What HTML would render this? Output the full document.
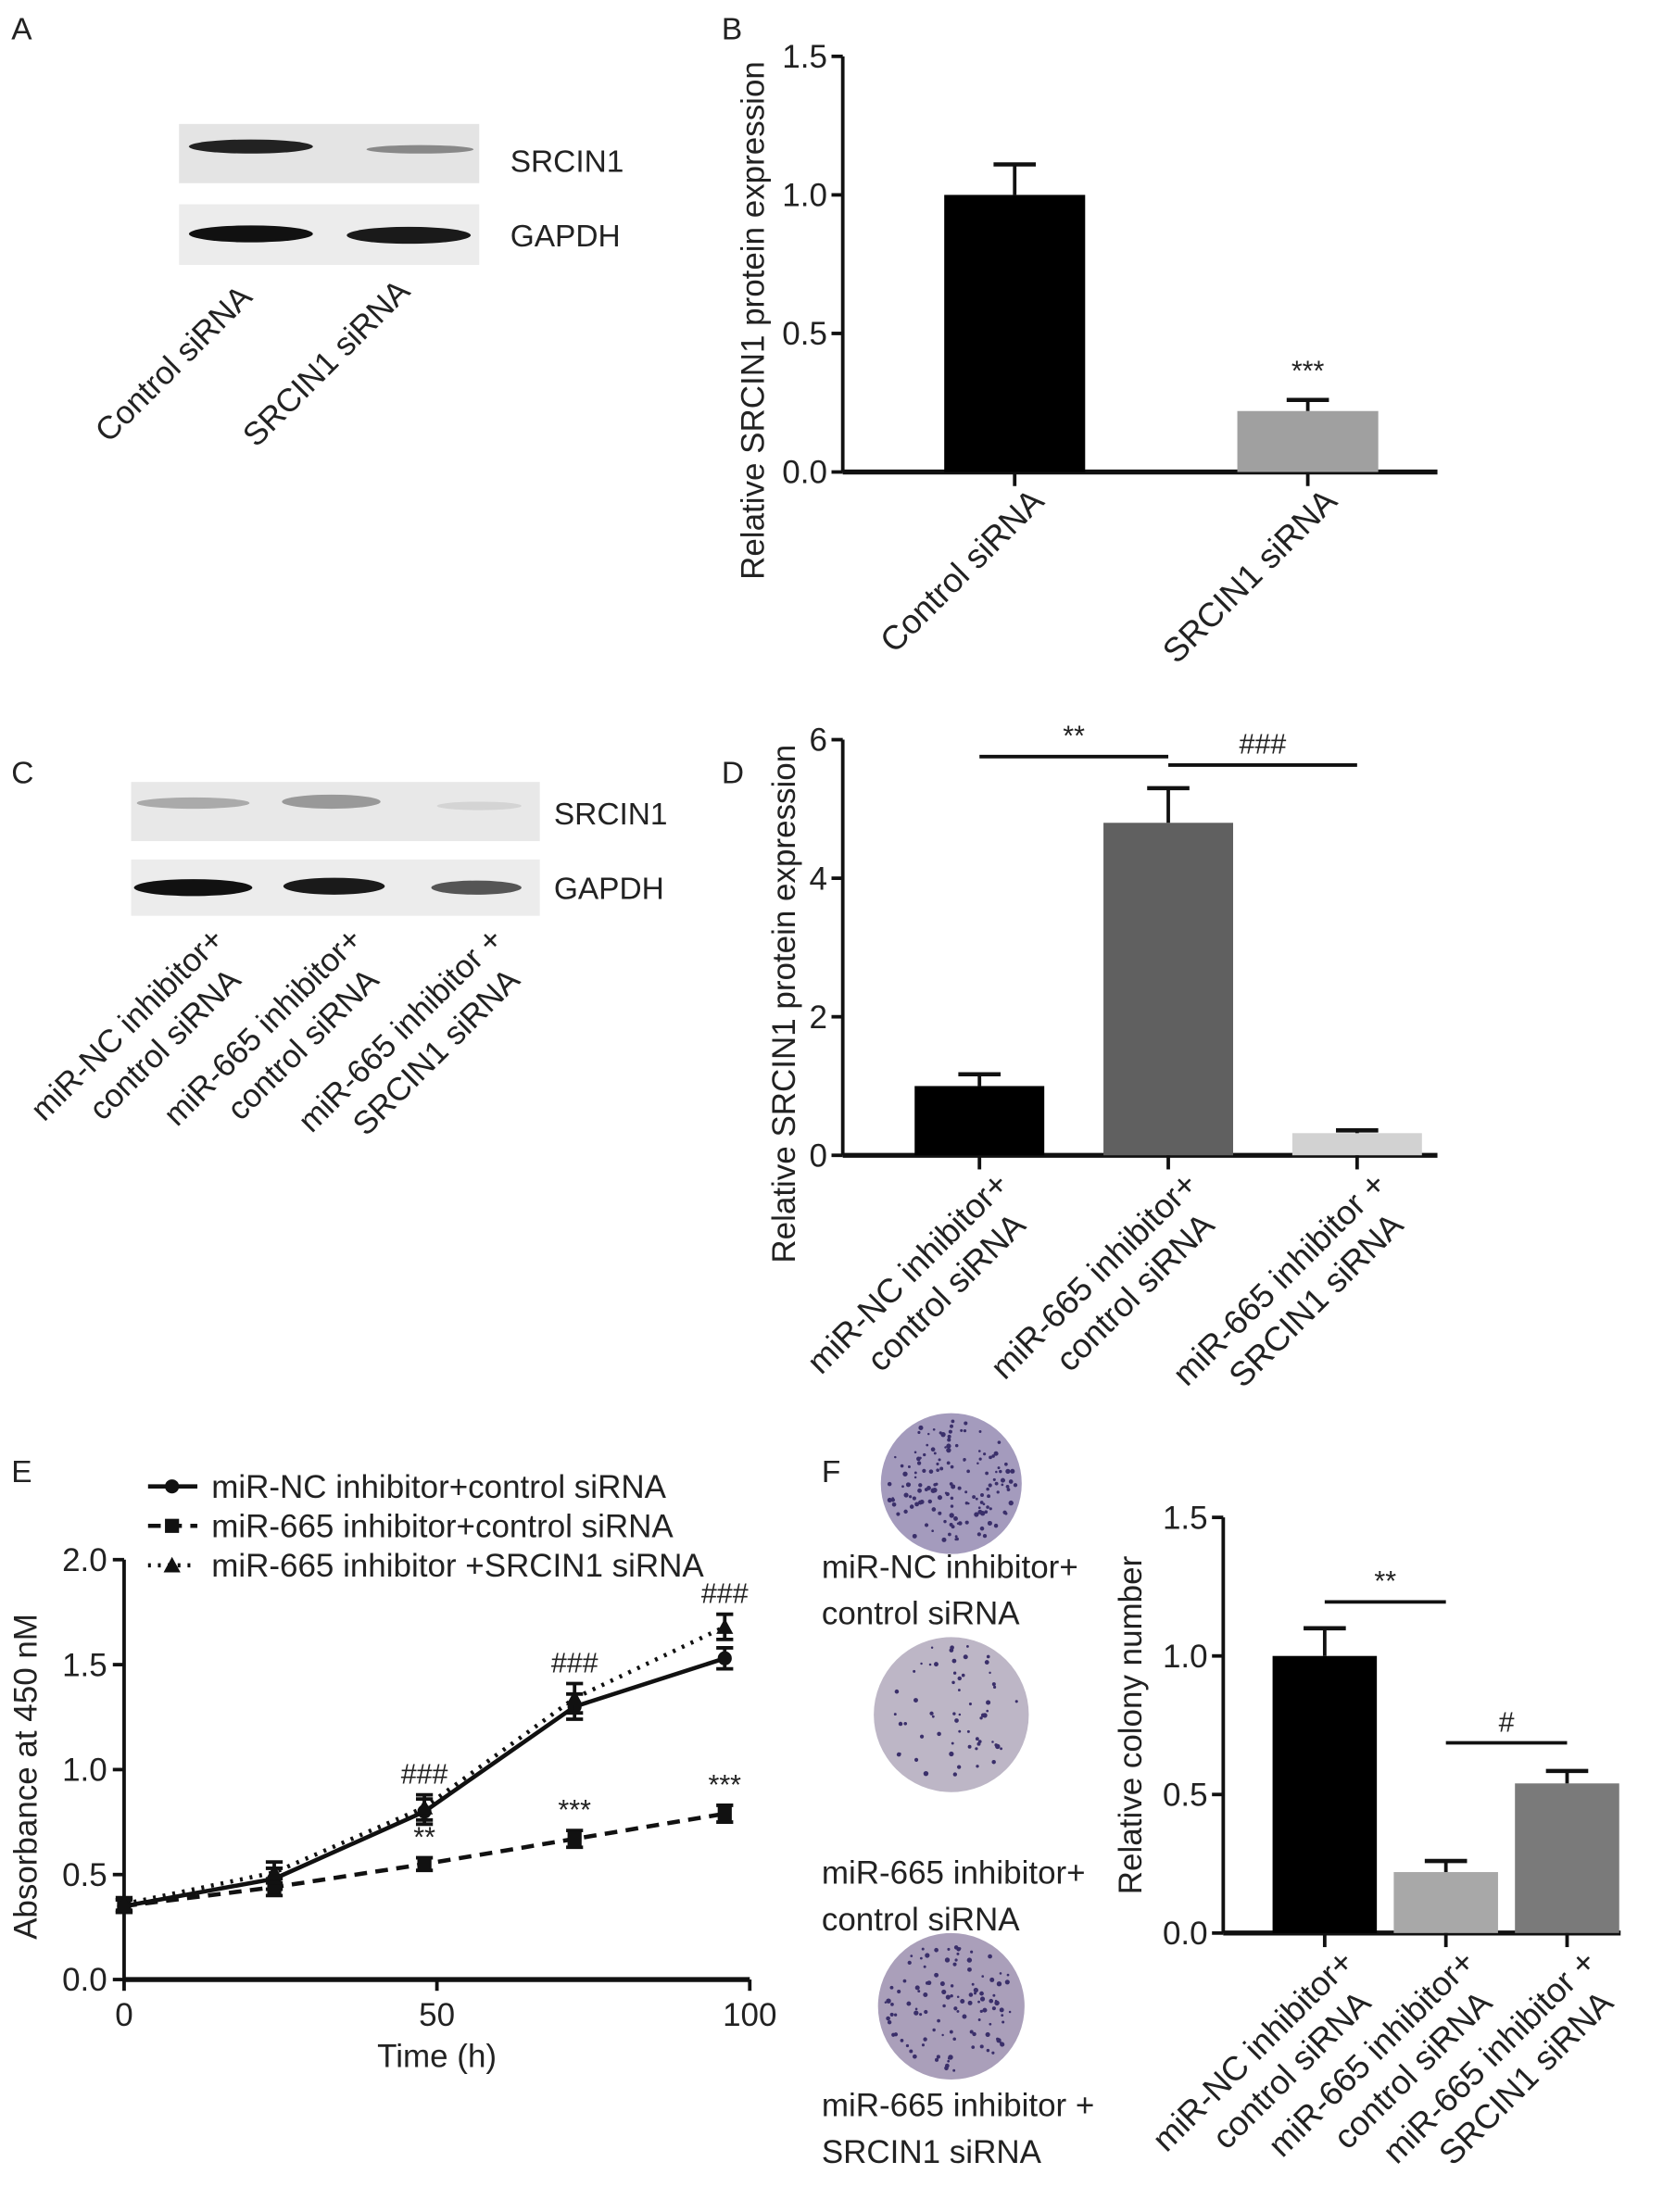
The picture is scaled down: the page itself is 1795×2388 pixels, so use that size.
<!DOCTYPE html>
<html><head><meta charset="utf-8"><style>
html,body{margin:0;padding:0;background:#fff}
svg{display:block}
text{font-family:"Liberation Sans",sans-serif;fill:#222}
</style></head><body>
<svg id="fig" width="1795" height="2388" viewBox="0 0 1180 1570" xmlns="http://www.w3.org/2000/svg">
<g font-size="22">
<text x="8" y="28">A</text>
<text x="512" y="28">B</text>
<text x="8" y="556">C</text>
<text x="512" y="556">D</text>
<text x="8" y="1052">E</text>
<text x="583" y="1052">F</text>
</g>
<!-- Panel A blots -->
<g>
<rect x="127" y="88" width="213" height="42" fill="#e4e4e4"/>
<ellipse cx="178" cy="104" rx="44" ry="5" fill="#222"/>
<ellipse cx="298" cy="106" rx="38" ry="3" fill="#888"/>
<rect x="127" y="145" width="213" height="43" fill="#ececec"/>
<ellipse cx="178" cy="166" rx="44" ry="6" fill="#111"/>
<ellipse cx="290" cy="167" rx="44" ry="6" fill="#1a1a1a"/>
<text x="362" y="122" font-size="22">SRCIN1</text>
<text x="362" y="175" font-size="22">GAPDH</text>
<text transform="translate(180,212) rotate(-45)" text-anchor="end" font-size="23">Control siRNA</text>
<text transform="translate(292,208) rotate(-45)" text-anchor="end" font-size="23">SRCIN1 siRNA</text>
</g>
<!-- Panel C blots -->
<g>
<rect x="93" y="555" width="290" height="42" fill="#e8e8e8"/>
<ellipse cx="137" cy="570" rx="40" ry="4" fill="#aaa"/>
<ellipse cx="235" cy="569" rx="35" ry="5" fill="#999"/>
<ellipse cx="340" cy="572" rx="30" ry="3" fill="#d4d4d4"/>
<rect x="93" y="610" width="290" height="40" fill="#ececec"/>
<ellipse cx="137" cy="630" rx="42" ry="6" fill="#111"/>
<ellipse cx="237" cy="629" rx="36" ry="6" fill="#1a1a1a"/>
<ellipse cx="338" cy="630" rx="32" ry="5" fill="#555"/>
<text x="393" y="585" font-size="22">SRCIN1</text>
<text x="393" y="638" font-size="22">GAPDH</text>
<g transform="translate(160,668) rotate(-45)" font-size="23" text-anchor="end"><text x="0" y="0">miR-NC inhibitor+</text><text x="-12" y="29">control siRNA</text></g>
<g transform="translate(258,668) rotate(-45)" font-size="23" text-anchor="end"><text x="0" y="0">miR-665 inhibitor+</text><text x="-12" y="29">control siRNA</text></g>
<g transform="translate(358,668) rotate(-45)" font-size="23" text-anchor="end"><text x="0" y="0">miR-665 inhibitor +</text><text x="-12" y="29">SRCIN1 siRNA</text></g>
</g>
<!-- Colony dishes -->
<g>
<circle cx="675" cy="1053" r="50" fill="#a49bbd"/>
<circle cx="675" cy="1217" r="55" fill="#bdb6c6"/>
<circle cx="675" cy="1424" r="52" fill="#aa9fba"/>
<g id="dots"></g>
<text x="583" y="1120" font-size="23">miR-NC inhibitor+</text>
<text x="583" y="1153" font-size="23">control siRNA</text>
<text x="583" y="1337" font-size="23">miR-665 inhibitor+</text>
<text x="583" y="1370" font-size="23">control siRNA</text>
<text x="583" y="1502" font-size="23">miR-665 inhibitor +</text>
<text x="583" y="1535" font-size="23">SRCIN1 siRNA</text>
</g>
<g id="plots"></g>
</svg>
<script>
// Panel B data
const bCats = ["Control siRNA", "SRCIN1 siRNA"];
const bVals = [1.0, 0.22];
const bErr = [0.11, 0.04];
const bTicks = ["0.0", "0.5", "1.0", "1.5"];
// Panel D data
const dCats1 = ["miR-NC inhibitor+", "miR-665 inhibitor+", "miR-665 inhibitor +"];
const dCats2 = ["control siRNA", "control siRNA", "SRCIN1 siRNA"];
const dVals = [1.0, 4.8, 0.32];
const dErr = [0.17, 0.5, 0.04];
const dTicks = ["0", "2", "4", "6"];
// Panel E data
const eTimes = [0, 24, 48, 72, 96];
const eNC = [0.35, 0.48, 0.80, 1.30, 1.53];
const e665 = [0.35, 0.44, 0.55, 0.67, 0.79];
const eSR = [0.36, 0.51, 0.82, 1.34, 1.68];
const eErrNC = [0.03, 0.05, 0.06, 0.06, 0.05];
const eErr665 = [0.03, 0.04, 0.03, 0.04, 0.04];
const eErrSR = [0.03, 0.05, 0.06, 0.07, 0.06];
const eYTicks = ["0.0", "0.5", "1.0", "1.5", "2.0"];
const eXTicks = ["0", "50", "100"];
const eSeriesNames = ["miR-NC inhibitor+control siRNA", "miR-665 inhibitor+control siRNA", "miR-665 inhibitor +SRCIN1 siRNA"];
// Panel F data
const fCats1 = ["miR-NC inhibitor+", "miR-665 inhibitor+", "miR-665 inhibitor +"];
const fCats2 = ["control siRNA", "control siRNA", "SRCIN1 siRNA"];
const fVals = [1.0, 0.22, 0.54];
const fErr = [0.1, 0.04, 0.045];
const fTicks = ["0.0", "0.5", "1.0", "1.5"];

const NS = "http://www.w3.org/2000/svg";
const root = document.getElementById("plots");
function mk(tag, attrs, parent, txt) {
  const e = document.createElementNS(NS, tag);
  for (const k in attrs) e.setAttribute(k, attrs[k]);
  if (txt !== undefined) e.textContent = txt;
  (parent || root).appendChild(e);
  return e;
}
function line(x1, y1, x2, y2, w, p, dash) {
  const a = {x1, y1, x2, y2, stroke: "#111", "stroke-width": w || 2.5};
  if (dash) a["stroke-dasharray"] = dash;
  return mk("line", a, p);
}
function errBar(x, yTop, yBase, p) {
  const l = line(x, yBase, x, yTop, 2.5, p);
  
  
  const c = line(x - 15, yTop, x + 15, yTop, 3, p);
  
  
}
function barPanel(cfg) {
  const g = mk("g", {});
  
  
  const y = v => cfg.y0 - (v / cfg.max) * (cfg.y0 - cfg.yTop);
  line(cfg.ax, cfg.yTop, cfg.ax, cfg.y0, 2.5, g);
  line(cfg.ax, cfg.y0, cfg.xEnd, cfg.y0, 3.5, g);
  cfg.ticks.forEach((t, i) => {
    const v = cfg.max * i / (cfg.ticks.length - 1);
    line(cfg.ax - 8, y(v), cfg.ax, y(v), 2.5, g);
    const tx = mk("text", {x: cfg.ax - 11, y: y(v) + 8, "text-anchor": "end", "font-size": 23}, g, t);
    
    
  });
  const yt = mk("text", {transform: `translate(${cfg.titleX},${(cfg.yTop + cfg.y0) / 2 + cfg.titleDy}) rotate(-90)`, "text-anchor": "middle", "font-size": 23}, g, cfg.title);
  
  
  cfg.vals.forEach((v, i) => {
    const cx = cfg.x0 + i * cfg.step;
    const b = mk("rect", {x: cx - cfg.bw / 2, y: y(v), width: cfg.bw, height: cfg.y0 - y(v), fill: cfg.colors[i]}, g);
    
    
    errBar(cx, y(v + cfg.err[i]), y(v), g);
    line(cx, cfg.y0, cx, cfg.y0 + 10, 2.5, g);
    const lg = mk("g", {transform: `translate(${cx + cfg.lblDx},${cfg.y0 + cfg.lblDy}) rotate(-45)`, "text-anchor": "end", "font-size": 24}, g);
    
    
    mk("text", {x: 0, y: 0}, lg, cfg.cats1[i]);
    if (cfg.cats2) mk("text", {x: -12, y: 29}, lg, cfg.cats2[i]);
  });
  (cfg.sig || []).forEach(s => {
    const a = cfg.x0 + s[0] * cfg.step, b2 = cfg.x0 + s[1] * cfg.step;
    const sl = line(a, s[2], b2, s[2], 2.5, g);
    
    
    const st = mk("text", {x: (a + b2) / 2, y: s[2] - 8, "text-anchor": "middle", "font-size": 20}, g, s[3]);
    
    
  });
  (cfg.stars || []).forEach(s => {
    const cx = cfg.x0 + s[0] * cfg.step;
    const st = mk("text", {x: cx, y: y(cfg.vals[s[0]] + cfg.err[s[0]]) - 14, "text-anchor": "middle", "font-size": 20}, g, s[1]);
    
    
  });
}
barPanel({name: "chart-b", ax: 598, yTop: 40, y0: 335, xEnd: 1020, max: 1.5, ticks: bTicks, vals: bVals, err: bErr,
  x0: 720, step: 208, bw: 100, colors: ["#000", "#a0a0a0"], cats1: bCats, lblDx: 22, lblDy: 22,
  title: "Relative SRCIN1 protein expression", titleX: 542, titleDy: 40, stars: [[1, "***"]]});
barPanel({name: "chart-d", ax: 598, yTop: 525, y0: 820, xEnd: 1020, max: 6, ticks: dTicks, vals: dVals, err: dErr,
  x0: 695, step: 134, bw: 92, colors: ["#000", "#606060", "#d2d2d2"], cats1: dCats1, cats2: dCats2, lblDx: 22, lblDy: 22,
  title: "Relative SRCIN1 protein expression", titleX: 564, titleDy: 40,
  sig: [[0, 1, 537, "**"], [1, 2, 543, "###"]]});
barPanel({name: "chart-f", ax: 868, yTop: 1077, y0: 1372, xEnd: 1150, max: 1.5, ticks: fTicks, vals: fVals, err: fErr,
  x0: 940, step: 86, bw: 74, colors: ["#000", "#a8a8a8", "#7a7a7a"], cats1: fCats1, cats2: fCats2, lblDx: 22, lblDy: 22,
  title: "Relative colony number", titleX: 810, titleDy: 0,
  sig: [[0, 1, 1137, "**"], [1, 2, 1237, "#"]]});

// Panel E line chart
(function () {
  const g = mk("g", {});
  
  
  const ax = 88, y0 = 1405, yTop = 1107, xR = 532;
  const X = t => ax + t / 100 * (xR - ax);
  const Y = v => y0 - v / 2 * (y0 - yTop);
  line(ax, yTop, ax, y0, 2.5, g);
  line(ax, y0, xR, y0, 3.5, g);
  eYTicks.forEach((t, i) => {
    const v = 2 * i / (eYTicks.length - 1);
    line(ax - 8, Y(v), ax, Y(v), 2.5, g);
    const tx = mk("text", {x: ax - 12, y: Y(v) + 8, "text-anchor": "end", "font-size": 23}, g, t);
    
    
  });
  eXTicks.forEach((t, i) => {
    const v = 100 * i / (eXTicks.length - 1);
    line(X(v), y0, X(v), y0 + 8, 2.5, g);
    const tx = mk("text", {x: X(v), y: y0 + 33, "text-anchor": "middle", "font-size": 23}, g, t);
    
    
  });
  const xt = mk("text", {x: (ax + xR) / 2, y: y0 + 62, "text-anchor": "middle", "font-size": 23}, g, "Time (h)");
  
  
  const yt = mk("text", {transform: `translate(26,${(y0 + yTop) / 2 + 5}) rotate(-90)`, "text-anchor": "middle", "font-size": 23}, g, "Absorbance at 450 nM");
  
  
  const series = [[eNC, eErrNC, "", "circle"], [e665, eErr665, "9,6", "square"], [eSR, eErrSR, "2,5", "triangle"]];
  series.forEach((s, si) => {
    const pts = eTimes.map((t, i) => X(t) + "," + Y(s[0][i])).join(" ");
    const pl = mk("polyline", {points: pts, fill: "none", stroke: "#111", "stroke-width": 3, "stroke-dasharray": s[2] || "none"}, g);
    
    
    eTimes.forEach((t, i) => {
      const cx = X(t), cy = Y(s[0][i]);
      const top = Y(s[0][i] + s[1][i]), bot = Y(s[0][i] - s[1][i]);
      line(cx, top, cx, bot, 2.5, g);
      line(cx - 6, top, cx + 6, top, 2.5, g);
      line(cx - 6, bot, cx + 6, bot, 2.5, g);
      let m;
      if (s[3] === "circle") m = mk("circle", {cx, cy, r: 5, fill: "#111"}, g);
      else if (s[3] === "square") m = mk("rect", {x: cx - 5, y: cy - 5, width: 10, height: 10, fill: "#111"}, g);
      else m = mk("polygon", {points: `${cx},${cy - 6} ${cx - 6},${cy + 5} ${cx + 6},${cy + 5}`, fill: "#111"}, g);
      
      
    });
  });
  const ann = [[48, eSR, eErrSR, "###"], [72, eSR, eErrSR, "###"], [96, eSR, eErrSR, "###"], [48, e665, eErr665, "**"], [72, e665, eErr665, "***"], [96, e665, eErr665, "***"]];
  ann.forEach(a => {
    const i = eTimes.indexOf(a[0]);
    const t = mk("text", {x: X(a[0]), y: Y(a[1][i] + a[2][i]) - 8, "text-anchor": "middle", "font-size": 20}, g, a[3]);
    
    
  });
  const dashes = ["", "9,6", "2,5"], marks = ["circle", "square", "triangle"];
  eSeriesNames.forEach((n, i) => {
    const ly = 1055 + i * 28;
    const lg = mk("g", {}, g);
    
    
    const l = line(105, ly, 140, ly, 3, lg);
    if (dashes[i]) l.setAttribute("stroke-dasharray", dashes[i]);
    if (marks[i] === "circle") mk("circle", {cx: 122, cy: ly, r: 5, fill: "#111"}, lg);
    else if (marks[i] === "square") mk("rect", {x: 117, y: ly - 5, width: 10, height: 10, fill: "#111"}, lg);
    else mk("polygon", {points: `122,${ly - 6} 116,${ly + 5} 128,${ly + 5}`, fill: "#111"}, lg);
    mk("text", {x: 150, y: ly + 8, "font-size": 23}, lg, n);
  });
})();

// colony dots (decorative)
(function () {
  const d = document.getElementById("dots");
  const centers = [[675, 1053, 150, 46], [675, 1217, 60, 50], [675, 1424, 110, 47]];
  let seed = 7;
  const rnd = () => { seed = (seed * 9301 + 49297) % 233280; return seed / 233280; };
  centers.forEach(c => {
    for (let k = 0; k < c[2]; k++) {
      const a = rnd() * 6.283, r = Math.sqrt(rnd()) * c[3];
      mk("circle", {cx: c[0] + r * Math.cos(a), cy: c[1] + r * Math.sin(a), r: 0.8 + rnd() * 1.0, fill: "#3a2f6a"}, d);
    }
  });
})();
</script>
</body></html>
